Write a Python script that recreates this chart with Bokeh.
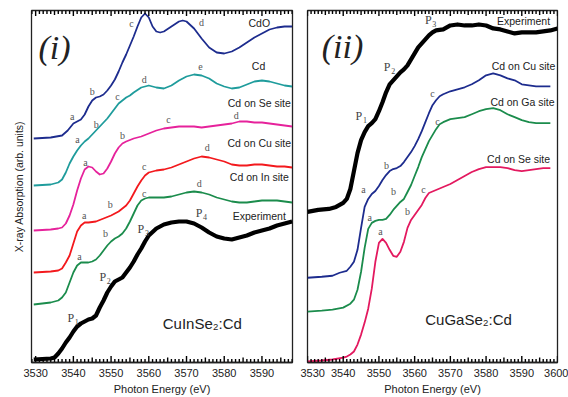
from bokeh.plotting import figure
from bokeh.layouts import row
from bokeh.models import Range1d, FixedTicker
from bokeh.core.properties import value
from bokeh.embed import file_html
from bokeh.resources import INLINE

# ---------------- Panel (i): CuInSe2:Cd ----------------
cdo_e = [3529.5, 3534, 3537, 3538.5, 3540, 3541, 3542, 3543, 3544, 3545, 3546, 3547, 3548, 3549, 3550,
         3551, 3552, 3553, 3554, 3555, 3556, 3557, 3558, 3559, 3560, 3561, 3562, 3563, 3564, 3566, 3568,
         3569, 3570, 3572, 3574, 3576, 3578, 3580, 3582, 3584, 3586, 3588, 3590, 3592, 3594, 3596, 3598]
cdo_y = [2.24, 2.25, 2.27, 2.32, 2.39, 2.41, 2.43, 2.48, 2.56, 2.62, 2.65, 2.66, 2.68, 2.72, 2.77,
         2.83, 2.91, 3.00, 3.08, 3.17, 3.26, 3.36, 3.45, 3.49, 3.45, 3.36, 3.31, 3.30, 3.31, 3.36, 3.41,
         3.42, 3.41, 3.34, 3.24, 3.15, 3.10, 3.09, 3.11, 3.15, 3.20, 3.25, 3.29, 3.33, 3.35, 3.36, 3.36]

cd_e = [3529.5, 3534, 3536, 3537, 3538, 3539, 3540, 3541, 3542, 3543, 3544, 3545, 3546, 3547, 3548,
        3549, 3550, 3551, 3552, 3553, 3554, 3555, 3556, 3558, 3560, 3562, 3564, 3566, 3568, 3570, 3572,
        3574, 3576, 3578, 3580, 3582, 3584, 3586, 3588, 3590, 3592, 3594, 3596, 3598]
cd_y = [1.77, 1.78, 1.80, 1.83, 1.90, 1.99, 2.06, 2.12, 2.17, 2.21, 2.24, 2.28, 2.32, 2.36, 2.40,
        2.44, 2.49, 2.54, 2.59, 2.62, 2.65, 2.67, 2.70, 2.75, 2.77, 2.75, 2.74, 2.77, 2.82, 2.86, 2.88,
        2.87, 2.84, 2.79, 2.76, 2.74, 2.75, 2.78, 2.81, 2.82, 2.81, 2.79, 2.77, 2.76]

se1_e = [3529.5, 3534, 3536, 3537, 3538, 3539, 3540, 3541, 3542, 3543, 3544, 3545, 3546, 3547, 3548,
         3549, 3550, 3551, 3552, 3553, 3554, 3556, 3558, 3560, 3562, 3564, 3566, 3568, 3570, 3572, 3574,
         3576, 3578, 3580, 3582, 3584, 3586, 3588, 3590, 3592, 3594, 3596, 3598]
se1_y = [1.32, 1.33, 1.34, 1.35, 1.39, 1.47, 1.58, 1.72, 1.84, 1.93, 1.96, 1.95, 1.91, 1.88, 1.89,
         1.94, 2.01, 2.09, 2.15, 2.19, 2.21, 2.24, 2.26, 2.29, 2.32, 2.34, 2.35, 2.36, 2.36, 2.36, 2.35,
         2.36, 2.37, 2.38, 2.39, 2.41, 2.41, 2.40, 2.40, 2.39, 2.38, 2.37, 2.36]

cu1_e = [3529.5, 3534, 3536, 3537, 3538, 3539, 3540, 3541, 3542, 3543, 3544, 3546, 3548, 3550, 3552,
         3553, 3554, 3555, 3556, 3557, 3558, 3559, 3560, 3562, 3564, 3566, 3568, 3570, 3572, 3574, 3576,
         3578, 3580, 3582, 3584, 3586, 3588, 3590, 3592, 3594, 3596, 3598]
cu1_y = [0.90, 0.91, 0.92, 0.94, 1.00, 1.07, 1.19, 1.31, 1.37, 1.40, 1.40, 1.41, 1.44, 1.47, 1.51,
         1.54, 1.57, 1.62, 1.69, 1.76, 1.82, 1.87, 1.90, 1.92, 1.93, 1.95, 1.98, 2.01, 2.04, 2.06, 2.05,
         2.03, 2.01, 1.98, 1.97, 1.97, 1.98, 1.98, 1.97, 1.96, 1.96, 1.95]

in1_e = [3529.5, 3534, 3536, 3537, 3538, 3539, 3540, 3541, 3542, 3544, 3545, 3546, 3547, 3548, 3549,
         3550, 3551, 3552, 3553, 3554, 3555, 3556, 3557, 3558, 3559, 3560, 3562, 3564, 3566, 3568, 3570,
         3572, 3574, 3576, 3578, 3580, 3582, 3584, 3586, 3588, 3590, 3592, 3594, 3596, 3598]
in1_y = [0.58, 0.60, 0.62, 0.65, 0.70, 0.80, 0.90, 0.97, 1.00, 1.00, 1.01, 1.03, 1.07, 1.12, 1.17,
         1.21, 1.24, 1.26, 1.29, 1.34, 1.41, 1.49, 1.57, 1.62, 1.64, 1.65, 1.65, 1.65, 1.66, 1.68, 1.70,
         1.71, 1.70, 1.68, 1.65, 1.63, 1.61, 1.60, 1.60, 1.61, 1.62, 1.62, 1.62, 1.61, 1.60]

exp1_e = [3529.5, 3534, 3535, 3536, 3537, 3538, 3539, 3540, 3541, 3542, 3543, 3544, 3545, 3546, 3547,
          3548, 3549, 3550, 3551, 3552, 3553, 3554, 3555, 3556, 3557, 3558, 3559, 3560, 3562, 3564, 3566,
          3568, 3570, 3572, 3574, 3576, 3578, 3580, 3582, 3584, 3586, 3588, 3590, 3592, 3594, 3596, 3598]
exp1_y = [0.03, 0.04, 0.05, 0.09, 0.14, 0.20, 0.25, 0.31, 0.36, 0.39, 0.41, 0.43, 0.44, 0.47, 0.55,
          0.62, 0.70, 0.76, 0.81, 0.83, 0.85, 0.90, 0.95, 1.01, 1.08, 1.14, 1.21, 1.27, 1.34, 1.38, 1.40,
          1.41, 1.41, 1.39, 1.35, 1.30, 1.26, 1.24, 1.23, 1.25, 1.27, 1.30, 1.32, 1.34, 1.37, 1.39, 1.41]

# ---------------- Panel (ii): CuGaSe2:Cd ----------------
exp2_e = [3530, 3533, 3536, 3538, 3540, 3541, 3542, 3543, 3544, 3545, 3546, 3547, 3548, 3549, 3550,
          3551, 3552, 3553, 3554, 3555, 3556, 3557, 3558, 3559, 3560, 3561, 3562, 3563, 3564, 3565, 3566,
          3568, 3570, 3572, 3574, 3576, 3578, 3580, 3582, 3584, 3586, 3588, 3590, 3592, 3594, 3596, 3598, 3600]
exp2_y = [1.51, 1.53, 1.54, 1.56, 1.60, 1.64, 1.74, 1.92, 2.10, 2.23, 2.31, 2.37, 2.40, 2.44, 2.52,
          2.61, 2.71, 2.79, 2.83, 2.87, 2.91, 2.94, 2.98, 3.04, 3.10, 3.16, 3.20, 3.24, 3.28, 3.31, 3.33,
          3.34, 3.38, 3.39, 3.38, 3.38, 3.39, 3.38, 3.35, 3.34, 3.32, 3.30, 3.31, 3.31, 3.31, 3.32, 3.33, 3.35]

cu2_e = [3530, 3534, 3537, 3539, 3541, 3542, 3543, 3544, 3545, 3546, 3547, 3548, 3549, 3550, 3551,
         3552, 3553, 3554, 3555, 3556, 3557, 3558, 3559, 3560, 3561, 3562, 3563, 3564, 3565, 3566, 3567,
         3568, 3570, 3572, 3574, 3576, 3578, 3580, 3582, 3584, 3586, 3588, 3590, 3592, 3594, 3596, 3598]
cu2_y = [0.85, 0.86, 0.87, 0.90, 0.92, 0.96, 1.01, 1.13, 1.35, 1.56, 1.64, 1.69, 1.72, 1.77, 1.83,
         1.88, 1.92, 1.94, 1.95, 1.97, 2.01, 2.06, 2.11, 2.17, 2.24, 2.32, 2.41, 2.50, 2.58, 2.63, 2.67,
         2.69, 2.72, 2.74, 2.76, 2.79, 2.83, 2.88, 2.90, 2.88, 2.85, 2.83, 2.79, 2.78, 2.77, 2.77, 2.77]

ga2_e = [3530, 3534, 3537, 3540, 3542, 3543, 3544, 3545, 3546, 3547, 3548, 3549, 3550, 3551, 3552,
         3553, 3554, 3555, 3556, 3557, 3558, 3559, 3560, 3561, 3562, 3563, 3564, 3565, 3566, 3567, 3568,
         3570, 3572, 3574, 3576, 3578, 3580, 3582, 3584, 3586, 3588, 3590, 3592, 3594, 3596, 3598]
ga2_y = [0.51, 0.52, 0.53, 0.55, 0.59, 0.63, 0.73, 0.91, 1.15, 1.34, 1.40, 1.42, 1.43, 1.43, 1.44,
         1.48, 1.53, 1.57, 1.61, 1.64, 1.71, 1.78, 1.87, 1.96, 2.06, 2.14, 2.22, 2.28, 2.34, 2.39, 2.41,
         2.44, 2.45, 2.46, 2.49, 2.52, 2.54, 2.55, 2.53, 2.49, 2.46, 2.43, 2.41, 2.40, 2.40, 2.40]

se2_e = [3530, 3534, 3537, 3540, 3541, 3542, 3543, 3544, 3545, 3546, 3547, 3548, 3549, 3550, 3551,
         3552, 3553, 3554, 3555, 3556, 3557, 3558, 3559, 3560, 3561, 3562, 3563, 3564, 3566, 3568, 3570,
         3572, 3574, 3576, 3578, 3580, 3582, 3584, 3586, 3588, 3590, 3592, 3594, 3596, 3598]
se2_y = [0.01, 0.02, 0.03, 0.05, 0.06, 0.08, 0.11, 0.18, 0.28, 0.40, 0.54, 0.74, 1.01, 1.20, 1.24,
         1.20, 1.13, 1.07, 1.06, 1.11, 1.21, 1.35, 1.43, 1.48, 1.53, 1.58, 1.65, 1.70, 1.73, 1.76, 1.79,
         1.83, 1.87, 1.91, 1.94, 1.96, 1.96, 1.96, 1.95, 1.93, 1.92, 1.93, 1.94, 1.95, 1.95]

major_ticks = [3530, 3540, 3550, 3560, 3570, 3580, 3590, 3600]
mid_ticks = [3535, 3545, 3555, 3565, 3575, 3585, 3595]
minor_ticks = [v for v in range(3529, 3601) if v % 5 != 0]

# annotations: (energy, absorption, text)
left_letters = [
    (3539.7, 2.46, "a"), (3545.0, 2.71, "b"), (3555.4, 3.39, "c"), (3574.0, 3.40, "d"),
    (3541.1, 2.23, "a"), (3546.1, 2.38, "b"), (3551.7, 2.66, "c"), (3558.8, 2.83, "d"), (3573.7, 2.96, "e"),
    (3543.2, 2.00, "a"), (3553.0, 2.27, "b"), (3565.2, 2.43, "c"), (3583.2, 2.47, "d"),
    (3542.9, 1.47, "a"), (3549.8, 1.58, "b"), (3558.8, 1.96, "c"), (3575.5, 2.15, "d"),
    (3541.6, 1.06, "a"), (3548.5, 1.29, "b"), (3558.8, 1.69, "c"), (3573.4, 1.79, "d"),
]
left_names = [
    (3589.3, 3.40, "CdO"), (3589.1, 2.97, "Cd"), (3589.3, 2.60, "Cd on Se site"),
    (3589.3, 2.20, "Cd on Cu site"), (3589.3, 1.86, "Cd on In site"), (3589.3, 1.47, "Experiment"),
]
left_peaks = [(3539.3, 0.45, "1"), (3547.8, 0.86, "2"), (3557.9, 1.34, "3"), (3573.3, 1.50, "4")]

right_letters = [
    (3545.7, 1.73, "a"), (3552.1, 1.98, "b"), (3565.0, 2.70, "c"),
    (3547.4, 1.45, "a"), (3554.1, 1.71, "b"), (3566.4, 2.42, "c"),
    (3550.4, 1.31, "a"), (3558.0, 1.51, "b"), (3562.5, 1.73, "c"),
]
right_names = [
    (3590.5, 3.42, "Experiment"), (3590.5, 2.97, "Cd on Cu site"),
    (3590.2, 2.61, "Cd on Ga site"), (3589.1, 2.04, "Cd on Se site"),
]
right_peaks = [(3544.4, 2.47, "1"), (3552.3, 2.96, "2"), (3563.8, 3.43, "3")]

NAVY = "#1d2c8e"
TEAL = "#1f9c9c"
MAGENTA = "#e6229b"
RED = "#f3191d"
GREEN = "#1b8c4c"
CRIMSON = "#e3195f"
INK = "#222222"
SANS = "Liberation Sans"
SERIF = "Liberation Serif"
FRAME_PX = 352  # frame height in pixels (used to size the tick marks)


def style_bottom(ax):
    ax.ticker = FixedTicker(ticks=major_ticks, minor_ticks=[])
    ax.axis_line_color = INK
    ax.axis_line_width = 1.3
    ax.major_tick_in = 0
    ax.major_tick_out = 0
    ax.minor_tick_in = 0
    ax.minor_tick_out = 0
    ax.major_label_text_font = SANS
    ax.major_label_text_font_size = "11px"
    ax.major_label_text_color = INK
    ax.major_label_standoff = 6
    ax.axis_label = "Photon Energy (eV)"
    ax.axis_label_text_font = SANS
    ax.axis_label_text_font_size = "11px"
    ax.axis_label_text_font_style = "normal"
    ax.axis_label_text_color = INK
    ax.axis_label_standoff = 3


def draw_ticks(p, y_lo, y_hi):
    # inward tick marks on the bottom and top edges of the frame
    per_px = (y_hi - y_lo) / FRAME_PX
    for ticks, lo, hi in [(major_ticks, 6.5, 5.5), (mid_ticks, 5, 4.5), (minor_ticks, 3.5, 3.5)]:
        p.segment(x0=ticks, y0=[y_lo] * len(ticks), x1=ticks, y1=[y_lo + lo * per_px] * len(ticks),
                  line_color="black", line_width=1.4)
        p.segment(x0=ticks, y0=[y_hi] * len(ticks), x1=ticks, y1=[y_hi - hi * per_px] * len(ticks),
                  line_color="black", line_width=1.4)


def base(width, xr, yr, bl, br, yaxis):
    p = figure(width=width, height=397, x_range=Range1d(*xr), y_range=Range1d(*yr),
               output_backend="svg", toolbar_location=None,
               y_axis_location="left" if yaxis else None,
               min_border_left=bl, min_border_right=br, min_border_top=10, min_border_bottom=35)
    p.xgrid.visible = False
    p.ygrid.visible = False
    p.outline_line_color = INK
    p.outline_line_width = 1.3
    p.background_fill_color = "white"
    p.border_fill_color = "white"
    style_bottom(p.xaxis[0])
    return p


def put_text(p, items, font, size, color, style="normal"):
    p.text(x=[t[0] for t in items], y=[t[1] for t in items], text=[t[2] for t in items],
           text_font=value(font), text_font_size=size, text_color=color, text_font_style=style,
           text_align="center", text_baseline="middle")


def put_peaks(p, items):
    p.text(x=[t[0] for t in items], y=[t[1] for t in items], text=["P"] * len(items),
           text_font=value(SERIF), text_font_size="12px", text_color="#444444",
           text_align="center", text_baseline="middle")
    p.text(x=[t[0] for t in items], y=[t[1] for t in items], text=[t[2] for t in items],
           text_font=value(SERIF), text_font_size="8px", text_color="#444444",
           text_align="left", text_baseline="middle", x_offset=4, y_offset=4)


# ---- left figure
p1 = base(300, (3528.9, 3598.1), (0.0, 3.52), 31, 8, True)
ya = p1.yaxis[0]
ya.ticker = FixedTicker(ticks=[])
ya.major_tick_in = 0
ya.major_tick_out = 0
ya.minor_tick_in = 0
ya.minor_tick_out = 0
ya.axis_line_color = None
ya.major_label_text_font_size = "1px"
ya.major_label_standoff = 0
ya.axis_label = "X-ray Absorption (arb. units)"
ya.axis_label_text_font = SANS
ya.axis_label_text_font_size = "10.5px"
ya.axis_label_text_font_style = "normal"
ya.axis_label_text_color = INK
ya.axis_label_standoff = 7

for e, y, c in [(cdo_e, cdo_y, NAVY), (cd_e, cd_y, TEAL), (se1_e, se1_y, MAGENTA),
                (cu1_e, cu1_y, RED), (in1_e, in1_y, GREEN)]:
    p1.line(e, y, line_color=c, line_width=1.8, line_join="round")
p1.line(exp1_e, exp1_y, line_color="black", line_width=4.2, line_join="round")
draw_ticks(p1, 0.0, 3.52)

put_text(p1, left_letters, SERIF, "10px", "#555555")
put_text(p1, left_names, SANS, "10.5px", INK)
put_peaks(p1, left_peaks)
put_text(p1, [(3574.2, 0.39, "CuInSe\u2082:Cd")], SANS, "15px", INK)
put_text(p1, [(3535.0, 3.15, "(i)")], SERIF, "34px", INK, "italic")

# ---- right figure
p2 = base(268, (3530, 3600), (0.0, 3.53), 7, 11, False)
for e, y, c in [(cu2_e, cu2_y, NAVY), (ga2_e, ga2_y, GREEN), (se2_e, se2_y, CRIMSON)]:
    p2.line(e, y, line_color=c, line_width=1.8, line_join="round")
p2.line(exp2_e, exp2_y, line_color="black", line_width=4.2, line_join="round")
draw_ticks(p2, 0.0, 3.53)

put_text(p2, right_letters, SERIF, "10px", "#555555")
put_text(p2, right_names, SANS, "10.5px", INK)
put_peaks(p2, right_peaks)
put_text(p2, [(3575.1, 0.43, "CuGaSe\u2082:Cd")], SANS, "15px", INK)
put_text(p2, [(3539.8, 3.17, "(ii)")], SERIF, "34px", INK, "italic")

layout = row(p1, p2)
open("out.html", "w").write(file_html(layout, INLINE))
